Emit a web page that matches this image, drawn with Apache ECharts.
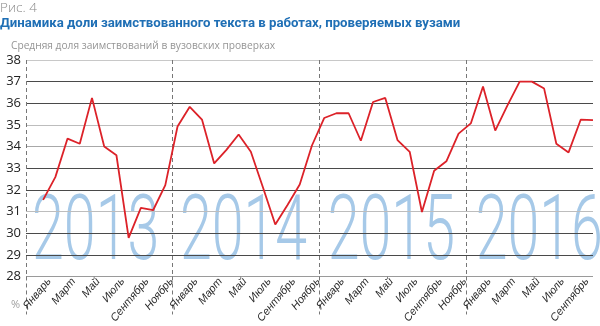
<!DOCTYPE html>
<html>
<head>
<meta charset="utf-8">
<script src="https://cdn.jsdelivr.net/npm/echarts@6/dist/echarts.min.js"></script>
<style>
  html, body { margin: 0; padding: 0; background: #fff; }
  #chart { width: 600px; height: 326px; }
</style>
</head>
<body>
<div id="chart"></div>
<script>
// Month names used for the axis labels
const monthNames = ['Январь', 'Февраль', 'Март', 'Апрель', 'Май', 'Июнь',
                    'Июль', 'Август', 'Сентябрь', 'Октябрь', 'Ноябрь', 'Декабрь'];
// Years shown as large background captions
const years = ['2013', '2014', '2015', '2016'];
// Average share of borrowed text, %, monthly from January 2013 to October 2016
const share2013 = [31.54, 32.59, 34.37, 34.13, 36.25, 34.00, 33.60, 29.78, 31.17, 31.06, 32.22, 34.93];
const share2014 = [35.84, 35.25, 33.22, 33.85, 34.56, 33.76, 32.10, 30.40, 31.30, 32.25, 34.05, 35.32];
const share2015 = [35.54, 35.54, 34.27, 36.06, 36.25, 34.30, 33.76, 30.98, 32.88, 33.32, 34.60, 35.07];
const share2016 = [36.78, 34.74, 35.90, 37.00, 37.00, 36.68, 34.13, 33.73, 35.25, 35.22];
// Year separators and year caption centres, in month-index units
const yearDividers = [-1.4, 10.6, 22.6, 34.6];
const yearCaptionCenters = [4.3, 16.4, 28.5, 40.6];

const shareValues = [].concat(share2013, share2014, share2015, share2016);
const seriesData = shareValues.map((v, i) => [i, v]);
// month labels every second month; the slanted text ends a little right of its point
const labelShift = 0.5;
const labelPositions = shareValues.map((v, i) => i).filter(i => i % 2 === 0).map(i => i + labelShift);

// gridline colours from 28 up to 38
const gridColors = ['#9a9a9a', '#4a4a4a', '#4a4a4a', '#bdbdbd', '#4a4a4a', '#4a4a4a',
                    '#a8a8a8', '#bdbdbd', '#4a4a4a', '#4a4a4a', '#c8c8c8'];

const chart = echarts.init(document.getElementById('chart'), null, { renderer: 'canvas' });

chart.setOption({
  animation: false,
  backgroundColor: '#fff',
  title: [
    { text: 'Рис. 4', left: 0, top: 1, padding: 0,
      textStyle: { fontFamily: 'Open Sans', fontWeight: 300, fontSize: 13.5, color: '#8a8a8a' } },
    { text: 'Динамика доли заимствованного текста в работах, проверяемых вузами', left: 0, top: 17, padding: 0,
      textStyle: { fontFamily: 'Roboto', fontWeight: 'bold', fontSize: 13.2, color: '#1f6fb5' } },
    { text: 'Средняя доля заимствований в вузовских проверках', left: 11, top: 41, padding: 0,
      textStyle: { fontFamily: 'Open Sans', fontWeight: 'normal', fontSize: 10.2, color: '#959595' } },
    { text: '%', left: 11, top: 299, padding: 0,
      textStyle: { fontFamily: 'Open Sans', fontWeight: 'normal', fontSize: 11, color: '#a0a0a0' } }
  ],
  grid: { left: 26, right: 7, top: 60, bottom: 38, containLabel: false },
  xAxis: {
    type: 'value',
    min: -1.4,
    max: 45,
    axisLine: { show: false },
    axisTick: {
      show: true,
      customValues: yearDividers,
      length: 38,
      lineStyle: { color: '#777', type: [4, 3], width: 1 }
    },
    splitLine: { show: true, lineStyle: { color: '#777', type: [4, 3], width: 1 } },
    axisLabel: {
      customValues: labelPositions,
      formatter: v => monthNames[Math.round(v - labelShift) % 12],
      rotate: 50,
      margin: 3,
      fontFamily: 'Liberation Sans Narrow, Liberation Sans',
      fontStyle: 'italic',
      fontSize: 11,
      color: '#2a2a2a'
    }
  },
  yAxis: {
    type: 'value',
    min: 28,
    max: 38,
    interval: 1,
    axisLine: { show: false },
    axisTick: { show: false },
    axisLabel: { fontFamily: 'Open Sans', fontSize: 13, color: '#222', margin: 5 },
    splitLine: { show: true, lineStyle: { color: gridColors, width: 1.2 } }
  },
  series: [{
    type: 'line',
    data: seriesData,
    symbol: 'none',
    z: 5,
    lineStyle: { color: '#dc2229', width: 1.8 }
  }]
});

// Large year captions placed through the axis scales
chart.setOption({
  graphic: years.map((y, k) => {
    const p = chart.convertToPixel({ xAxisIndex: 0, yAxisIndex: 0 }, [yearCaptionCenters[k], 29.85]);
    return {
      type: 'text',
      x: p[0],
      y: p[1],
      scaleX: 0.63,
      z: -10,
      silent: true,
      style: {
        text: y,
        fontFamily: 'Roboto',
        fontWeight: 300,
        fontSize: 91,
        fill: '#a6c9e8',
        align: 'center',
        verticalAlign: 'middle'
      }
    };
  })
});
</script>
</body>
</html>
